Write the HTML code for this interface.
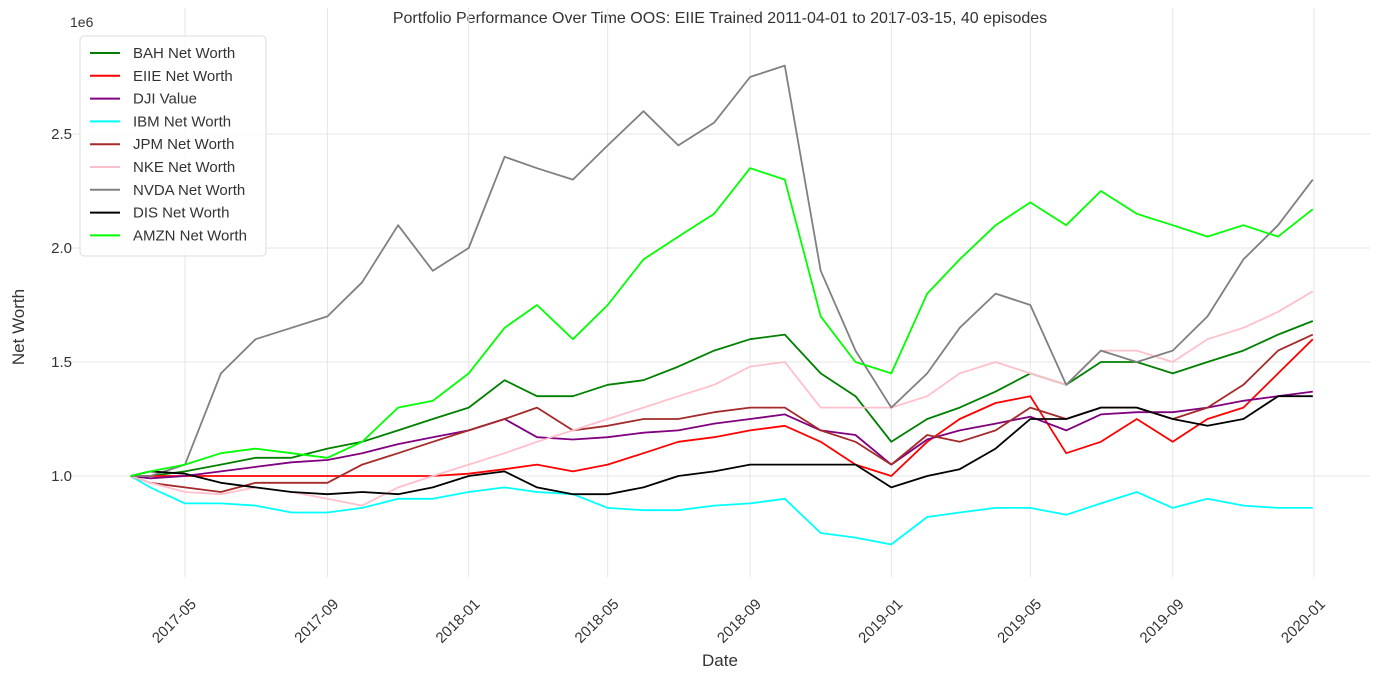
<!DOCTYPE html>
<html><head><meta charset="utf-8"><style>
body{margin:0;background:#fff;font-family:"Liberation Sans",sans-serif;}
svg text{font-family:"Liberation Sans",sans-serif;fill:#333;}
</style></head><body>
<svg id="chart" width="1380" height="680">
<text x="720" y="23" text-anchor="middle" font-size="16">Portfolio Performance Over Time OOS: EIIE Trained 2011-04-01 to 2017-03-15, 40 episodes</text>
<text x="70" y="27" font-size="14">1e6</text>
<text transform="translate(24,327) rotate(-90)" text-anchor="middle" font-size="17">Net Worth</text>
<text x="720" y="666" text-anchor="middle" font-size="17">Date</text>
<g id="grid"></g><g id="ticks"></g><g id="series"></g><g id="legend"></g>
</svg>
<script>
const dates=["2017-03-15","2017-04-01","2017-05-01","2017-06-01","2017-07-01","2017-08-01","2017-09-01","2017-10-01","2017-11-01","2017-12-01","2018-01-01","2018-02-01","2018-03-01","2018-04-01","2018-05-01","2018-06-01","2018-07-01","2018-08-01","2018-09-01","2018-10-01","2018-11-01","2018-12-01","2019-01-01","2019-02-01","2019-03-01","2019-04-01","2019-05-01","2019-06-01","2019-07-01","2019-08-01","2019-09-01","2019-10-01","2019-11-01","2019-12-01","2019-12-31"];
const bah=[1.0,1.0,1.02,1.05,1.08,1.08,1.12,1.15,1.2,1.25,1.3,1.42,1.35,1.35,1.4,1.42,1.48,1.55,1.6,1.62,1.45,1.35,1.15,1.25,1.3,1.37,1.45,1.4,1.5,1.5,1.45,1.5,1.55,1.62,1.68];
const eiie=[1.0,1.0,1.0,1.0,1.0,1.0,1.0,1.0,1.0,1.0,1.01,1.03,1.05,1.02,1.05,1.1,1.15,1.17,1.2,1.22,1.15,1.05,1.0,1.15,1.25,1.32,1.35,1.1,1.15,1.25,1.15,1.25,1.3,1.45,1.6];
const dji=[1.0,0.99,1.0,1.02,1.04,1.06,1.07,1.1,1.14,1.17,1.2,1.25,1.17,1.16,1.17,1.19,1.2,1.23,1.25,1.27,1.2,1.18,1.05,1.16,1.2,1.23,1.26,1.2,1.27,1.28,1.28,1.3,1.33,1.35,1.37];
const ibm=[1.0,0.95,0.88,0.88,0.87,0.84,0.84,0.86,0.9,0.9,0.93,0.95,0.93,0.92,0.86,0.85,0.85,0.87,0.88,0.9,0.75,0.73,0.7,0.82,0.84,0.86,0.86,0.83,0.88,0.93,0.86,0.9,0.87,0.86,0.86];
const jpm=[1.0,0.97,0.95,0.93,0.97,0.97,0.97,1.05,1.1,1.15,1.2,1.25,1.3,1.2,1.22,1.25,1.25,1.28,1.3,1.3,1.2,1.15,1.05,1.18,1.15,1.2,1.3,1.25,1.3,1.3,1.25,1.3,1.4,1.55,1.62];
const nke=[1.0,0.97,0.93,0.92,0.95,0.93,0.9,0.87,0.95,1.0,1.05,1.1,1.15,1.2,1.25,1.3,1.35,1.4,1.48,1.5,1.3,1.3,1.3,1.35,1.45,1.5,1.45,1.4,1.55,1.55,1.5,1.6,1.65,1.72,1.81];
const nvda=[1.0,1.0,1.05,1.45,1.6,1.65,1.7,1.85,2.1,1.9,2.0,2.4,2.35,2.3,2.45,2.6,2.45,2.55,2.75,2.8,1.9,1.55,1.3,1.45,1.65,1.8,1.75,1.4,1.55,1.5,1.55,1.7,1.95,2.1,2.3];
const dis=[1.0,1.02,1.01,0.97,0.95,0.93,0.92,0.93,0.92,0.95,1.0,1.02,0.95,0.92,0.92,0.95,1.0,1.02,1.05,1.05,1.05,1.05,0.95,1.0,1.03,1.12,1.25,1.25,1.3,1.3,1.25,1.22,1.25,1.35,1.35];
const amzn=[1.0,1.02,1.05,1.1,1.12,1.1,1.08,1.15,1.3,1.33,1.45,1.65,1.75,1.6,1.75,1.95,2.05,2.15,2.35,2.3,1.7,1.5,1.45,1.8,1.95,2.1,2.2,2.1,2.25,2.15,2.1,2.05,2.1,2.05,2.17];
const seriesNames=["BAH Net Worth","EIIE Net Worth","DJI Value","IBM Net Worth","JPM Net Worth","NKE Net Worth","NVDA Net Worth","DIS Net Worth","AMZN Net Worth"];
const seriesValues=[bah,eiie,dji,ibm,jpm,nke,nvda,dis,amzn];
const seriesColors=["#008000","#ff0000","#800080","#00ffff","#a52a2a","#ffc0cb","#808080","#000000","#00ff00"];
const yTicks=[1.0,1.5,2.0,2.5];
const xTicks=["2017-05","2017-09","2018-01","2018-05","2018-09","2019-01","2019-05","2019-09","2020-01"];

const NS="http://www.w3.org/2000/svg";
const t0=Date.parse("2017-05-01"), pxPerDay=1129/975;
function X(d){return 185+(Date.parse(d)-t0)/86400000*pxPerDay;}
function Y(v){return 476-(v-1)*228;}
function mk(tag,attrs,parent){const e=document.createElementNS(NS,tag);for(const k in attrs)e.setAttribute(k,attrs[k]);parent.appendChild(e);return e;}
const grid=document.getElementById('grid'),ticks=document.getElementById('ticks'),sg=document.getElementById('series'),lg=document.getElementById('legend');
yTicks.forEach(v=>{
  const l=mk('line',{x1:72,x2:1370,y1:Y(v),y2:Y(v),stroke:'#e5e5e5','stroke-width':1},grid);
  
  
  const t=mk('text',{x:72,y:Y(v)+5,'text-anchor':'end','font-size':15},ticks);
  t.textContent=v.toFixed(1);
  
  
});
xTicks.forEach(d=>{
  const x=X(d+"-01");
  const l=mk('line',{x1:x,x2:x,y1:8,y2:577,stroke:'#e5e5e5','stroke-width':1},grid);
  
  
  const t=mk('text',{x:0,y:0,'text-anchor':'end','font-size':15,transform:`translate(${x+12},${605}) rotate(-45)`},ticks);
  t.textContent=d;
  
  
});
seriesValues.forEach((vals,i)=>{
  const pts=vals.map((v,j)=>X(dates[j]).toFixed(1)+","+Y(v).toFixed(1)).join(" ");
  const p=mk('polyline',{points:pts,fill:'none',stroke:seriesColors[i],'stroke-width':1.8,'stroke-linejoin':'round'},sg);
  
  
});
const box=mk('rect',{x:80,y:36,width:186,height:220,rx:4,fill:'#fff','fill-opacity':0.85,stroke:'#ddd'},lg);


seriesNames.forEach((n,i)=>{
  const y=53+i*22.8;
  const g=mk('g',{},lg);
  
  
  mk('line',{x1:90,x2:120,y1:y,y2:y,stroke:seriesColors[i],'stroke-width':2},g);
  const t=mk('text',{x:133,y:y+5,'font-size':15},g);
  t.textContent=n;
});
</script>
</body></html>
